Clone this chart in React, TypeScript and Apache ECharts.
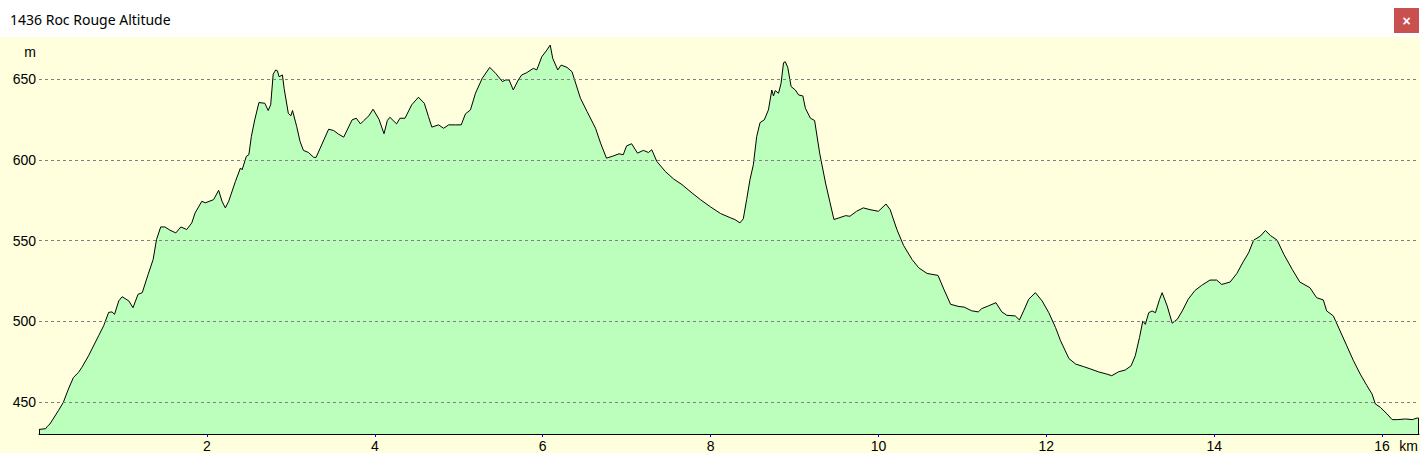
import React, { useEffect, useRef } from "react";
import * as echarts from "echarts";

const chartTitle = "1436 Roc Rouge Altitude";
const yUnit = "m";
const xUnit = "km";

const distanceKm = [
  0.0, 0.08, 0.1, 0.13, 0.23, 0.29, 0.35, 0.41, 0.47, 0.51, 0.59, 0.71, 0.77, 0.83, 0.87, 0.9,
  0.95, 0.99, 1.07, 1.12, 1.18, 1.23, 1.3, 1.36, 1.4, 1.45, 1.5, 1.56, 1.63, 1.69, 1.76, 1.82,
  1.86, 1.94, 1.98, 2.08, 2.14, 2.18, 2.22, 2.26, 2.34, 2.4, 2.42, 2.47, 2.5, 2.53, 2.57, 2.62,
  2.69, 2.73, 2.76, 2.79, 2.82, 2.84, 2.86, 2.9, 2.92, 2.97, 3.0, 3.02, 3.07, 3.11, 3.15, 3.21,
  3.27, 3.3, 3.35, 3.45, 3.51, 3.57, 3.63, 3.73, 3.78, 3.83, 3.87, 3.93, 3.98, 4.05, 4.11, 4.15,
  4.18, 4.26, 4.3, 4.36, 4.44, 4.52, 4.59, 4.64, 4.68, 4.76, 4.82, 4.88, 4.96, 5.03, 5.08, 5.14,
  5.2, 5.28, 5.37, 5.44, 5.52, 5.56, 5.6, 5.65, 5.71, 5.75, 5.81, 5.89, 5.93, 5.99, 6.05, 6.09,
  6.12, 6.18, 6.22, 6.29, 6.35, 6.45, 6.53, 6.63, 6.69, 6.76, 6.83, 6.91, 6.96, 7.0, 7.06, 7.13,
  7.2, 7.26, 7.3, 7.36, 7.46, 7.56, 7.66, 7.78, 7.88, 8.0, 8.12, 8.24, 8.29, 8.35, 8.39, 8.43,
  8.47, 8.51, 8.55, 8.59, 8.64, 8.69, 8.73, 8.75, 8.77, 8.81, 8.84, 8.87, 8.89, 8.92, 8.96, 9.01,
  9.05, 9.1, 9.13, 9.19, 9.24, 9.3, 9.37, 9.42, 9.47, 9.53, 9.61, 9.66, 9.74, 9.82, 9.9, 10.0,
  10.09, 10.14, 10.22, 10.3, 10.4, 10.48, 10.58, 10.71, 10.78, 10.86, 10.96, 11.02, 11.11, 11.19,
  11.23, 11.31, 11.4, 11.47, 11.53, 11.63, 11.68, 11.73, 11.79, 11.87, 11.95, 12.03, 12.11, 12.17,
  12.27, 12.35, 12.44, 12.53, 12.62, 12.72, 12.78, 12.86, 12.94, 13.01, 13.06, 13.11, 13.15, 13.18,
  13.22, 13.26, 13.3, 13.35, 13.38, 13.44, 13.5, 13.56, 13.62, 13.69, 13.77, 13.85, 13.95, 14.03,
  14.09, 14.19, 14.27, 14.35, 14.41, 14.47, 14.55, 14.61, 14.67, 14.75, 14.83, 14.93, 15.02, 15.14,
  15.22, 15.3, 15.34, 15.42, 15.5, 15.58, 15.66, 15.74, 15.82, 15.88, 15.92, 15.98, 16.06, 16.12,
  16.18, 16.28, 16.36, 16.42, 16.435,
];

const elevationM = [
  433, 433.5, 435, 436.4, 444.6, 449.8, 458, 465.2, 468.3, 471.4, 478.6, 491, 497.2, 505.5, 505.8, 504.3,
  512.6, 515.2, 512.6, 508.4, 516.7, 517.7, 529, 538.3, 550.6, 558.4, 558.4, 556.4, 554.7, 558.4, 556.8, 560.9,
  567.1, 574.3, 573.3, 575.3, 581.1, 574.3, 570.2, 574.3, 586.6, 594.9, 593.8, 602.1, 603.1, 614.4, 624.7, 635.4,
  635, 630.5, 634, 653, 655.6, 655.1, 651.4, 652.5, 644.2, 628.8, 627.2, 630.5, 620.6, 611.3, 605.8, 604.5,
  601.6, 601.4, 607.2, 618.9, 618.1, 615.8, 614, 624.7, 625.7, 622.2, 624.3, 627.2, 631.3, 625.1, 616.1, 624.3,
  626.3, 622.2, 625.7, 625.7, 634, 638.7, 635, 626.7, 620.2, 621.6, 619.5, 621.6, 621.6, 621.6, 628.4, 630.9,
  641.2, 650.4, 657.2, 653.5, 648.4, 649.4, 649.4, 643.2, 649.4, 652.5, 653.9, 656.6, 655.6, 663.8, 667.9, 671,
  662.8, 655.6, 658.6, 657.2, 654.5, 638.1, 629.8, 619.5, 610.3, 601, 602.1, 603.7, 603.1, 608.6, 609.9, 604.1,
  605.8, 604.5, 606.2, 599, 592.8, 588.1, 584.6, 579.4, 575.3, 570.8, 566.7, 564, 563, 560.9, 563.4, 575.3,
  587.7, 596.9, 614.4, 623, 624.7, 630.9, 643.2, 639.5, 642.8, 641.2, 647.3, 660.1, 660.7, 657.2, 645.3, 643.2,
  640.1, 639.5, 631.9, 625.7, 624.3, 604.1, 585.6, 574.3, 563, 564, 565.4, 565, 568.1, 570.2, 569.1, 568.1,
  572.6, 569.1, 556.8, 546.9, 538.3, 533.1, 529.6, 528.4, 519.8, 510.5, 509.1, 508.8, 506.5, 505.8,
  507.8, 509.5, 511.5, 505.8, 503.7, 503.3, 500.8, 506.4, 513.6, 517.7, 512.6, 505.3, 496.1, 487.9,
  476.9, 473.5, 472, 470.4, 468.7, 467.3, 466.3, 468.7, 469.8, 472.4, 478.6, 489.9, 500.2, 498.1,
  505.3, 506.4, 505.3, 513.6, 517.7, 509.5, 498.8, 501.2, 506.4, 513.6, 519, 522.2, 525.5, 525.5,
  522.8, 524.3, 529.6, 537.2, 542.4, 550.2, 552.7, 556.2, 553.1, 550.2, 541.4, 532.1, 524.3, 520.8,
  514.6, 513.2, 506.4, 503.3, 494, 484.8, 475.5, 467.3, 460.1, 455, 448.8, 446.7, 442.6, 439.1,
  439.1, 439.5, 439.1, 440.1, 440.1,
];

const yTickValues = [450, 500, 550, 600, 650];
const xTickValues = [2, 4, 6, 8, 10, 12, 14, 16];
const Y_MIN = 430.2;
const Y_MAX = 676;
const X_MIN = 0;
const X_MAX = 16.44;

const FONT = "'Liberation Sans', Arial, sans-serif";
const TITLE_FONT = "'Noto Sans', 'Open Sans', sans-serif";

export default function App() {
  const ref = useRef<HTMLDivElement>(null);

  useEffect(() => {
    if (!ref.current) return;
    const chart = echarts.init(ref.current, null, { renderer: "svg" });
    const points = distanceKm.map((d, i) => [d, elevationM[i]]);
    const n = distanceKm.length - 1;

    chart.setOption({
      animation: false,
      backgroundColor: "#FFFFDD",
      grid: {
        left: 39,
        right: 1,
        top: 37,
        bottom: 19,
        containLabel: false,
        outerBoundsMode: "none",
        show: false,
      },
      xAxis: {
        type: "value",
        min: X_MIN,
        max: X_MAX,
        z: 5,
        axisLine: { show: true, onZero: false, lineStyle: { color: "#000000", width: 1 } },
        axisTick: {
          show: true,
          customValues: xTickValues,
          length: 3,
          lineStyle: { color: "#0000FF", width: 1 },
        },
        axisLabel: {
          show: true,
          customValues: xTickValues,
          margin: 5,
          color: "#000000",
          fontFamily: FONT,
          fontSize: 14,
        },
        splitLine: { show: false },
      },
      yAxis: {
        type: "value",
        min: Y_MIN,
        max: Y_MAX,
        z: 5,
        axisLine: { show: false },
        axisTick: { show: false, customValues: yTickValues },
        axisLabel: {
          show: true,
          customValues: yTickValues,
          margin: 3,
          color: "#000000",
          fontFamily: FONT,
          fontSize: 14,
        },
        splitLine: {
          show: true,
          lineStyle: { color: "#808080", width: 1, type: [3, 3] },
        },
      },
      graphic: [
        {
          type: "rect",
          left: 0,
          top: 0,
          shape: { x: 0, y: 0, width: 1420, height: 37 },
          style: { fill: "#FFFFFF" },
          silent: true,
        },
        {
          type: "text",
          x: 10,
          y: 19,
          style: {
            text: chartTitle,
            fill: "#000000",
            font: `14px ${TITLE_FONT}`,
            textVerticalAlign: "middle",
            verticalAlign: "middle",
          },
          silent: true,
        },
        {
          type: "rect",
          shape: { x: 1394, y: 8, width: 25, height: 25 },
          style: { fill: "#C8504F" },
          silent: true,
        },
        {
          type: "text",
          x: 1406.5,
          y: 20.5,
          style: {
            text: "×",
            fill: "#FFFFFF",
            font: `bold 14px ${FONT}`,
            align: "center",
            verticalAlign: "middle",
          },
          silent: true,
        },
        {
          type: "text",
          x: 36,
          y: 52,
          style: {
            text: yUnit,
            fill: "#000000",
            font: `14px ${FONT}`,
            align: "right",
            verticalAlign: "middle",
          },
          silent: true,
        },
        {
          type: "text",
          x: 1418,
          y: 446,
          style: {
            text: xUnit,
            fill: "#000000",
            font: `14px ${FONT}`,
            align: "right",
            verticalAlign: "middle",
          },
          silent: true,
        },
      ],
      series: [
        {
          type: "line",
          data: points,
          showSymbol: false,
          symbol: "none",
          z: 2,
          lineStyle: { color: "#000000", width: 1 },
          areaStyle: { color: "#BCFFBC", opacity: 1, origin: "start" },
          emphasis: { disabled: true },
          silent: true,
          markLine: {
            silent: true,
            symbol: "none",
            label: { show: false },
            lineStyle: { color: "#000000", width: 1, type: "solid" },
            emphasis: { disabled: true },
            data: [
              [{ coord: [distanceKm[0], Y_MIN] }, { coord: [distanceKm[0], elevationM[0]] }],
              [{ coord: [distanceKm[n], Y_MIN] }, { coord: [distanceKm[n], elevationM[n]] }],
            ],
          },
        },
      ],
    });

    return () => {
      chart.dispose();
    };
  }, []);

  return (
    <div
      ref={ref}
      style={{ position: "absolute", left: 0, top: 0, width: 1420, height: 453 }}
    />
  );
}
